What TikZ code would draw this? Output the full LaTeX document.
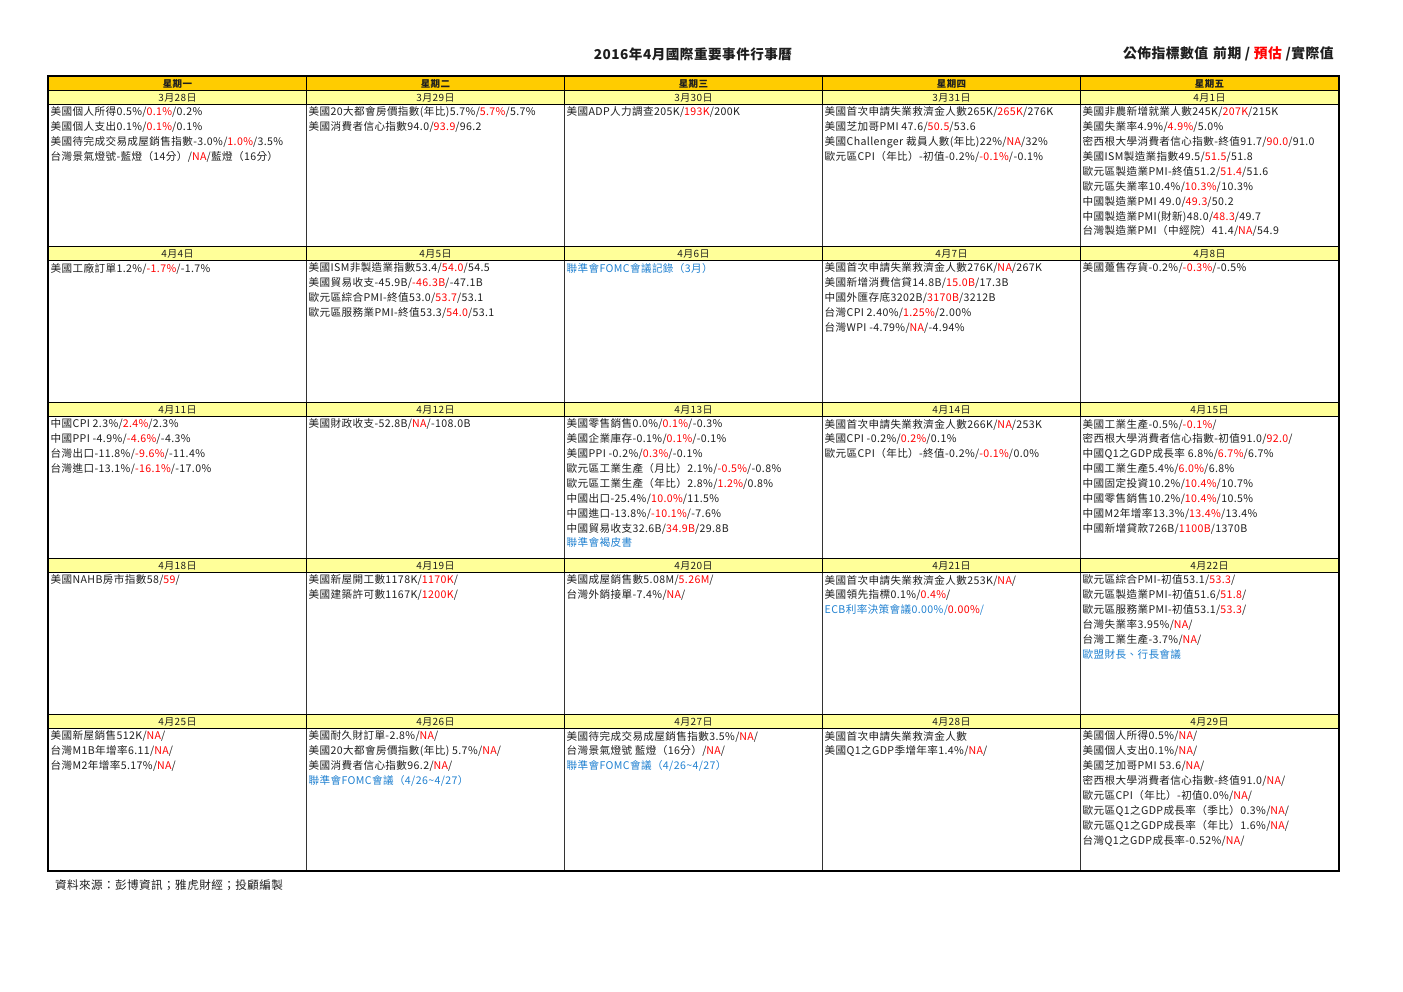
\documentclass[tikz,border=0pt]{standalone}
\usepackage{fontspec}
\setmainfont{Noto Sans CJK TC}[LetterSpace=3.5]
\definecolor{hdr}{RGB}{255,204,0}
\definecolor{dat}{RGB}{255,255,153}
\definecolor{redtx}{RGB}{255,0,0}
\definecolor{bluetx}{RGB}{31,128,208}
\definecolor{ink}{RGB}{30,30,30}
\newcommand\rtx[1]{\textcolor{redtx}{#1}}
\newcommand\btx[1]{\textcolor{bluetx}{#1}}
\tikzset{
  hdrcell/.style={draw=black, line width=1pt, fill=hdr, minimum width=258pt, minimum height=14pt, inner sep=0pt, anchor=north west, font=\bfseries\fontsize{9.5}{10}\selectfont, text=ink},
  datecell/.style={draw=black, line width=1pt, fill=dat, minimum width=258pt, minimum height=14pt, inner sep=0pt, anchor=north west, font=\fontsize{10}{10}\selectfont, text=ink},
  bodycell/.style={draw=black!80, line width=1pt, minimum width=258pt, minimum height=142pt, inner sep=0pt, anchor=north west},
  txt/.style={inner sep=0pt, anchor=north west, align=left, font=\fontsize{10.6}{14.87}\selectfont, text=ink},
}
\newcommand\daycell[5]{%
  \node[bodycell] (b#1) at ({48+258*#2},{104+156*#3}) {};
  \node[datecell] (d#1) at ({48+258*#2},{90+156*#3}) {#4};
  \node[txt] (t#1) at ({50.5+258*#2},{106.8+156*#3}) {#5};
}
\begin{document}
\begin{tikzpicture}[x=1pt,y=-1pt]
\useasboundingbox (0,0) rectangle (1403,992);
\node[font=\bfseries\fontsize{13.6}{14}\selectfont, text=ink] (title) at (693,54) {2016年4月國際重要事件行事曆};
\node[font=\bfseries\fontsize{13.8}{14}\selectfont, text=ink, anchor=east, inner sep=0pt] (legend) at (1334,54) {公佈指標數值\hspace{5pt}前期 / \rtx{預估} /實際值};
\node[hdrcell] (h1) at (48,76) {星期一};
\node[hdrcell] (h2) at (306,76) {星期二};
\node[hdrcell] (h3) at (564,76) {星期三};
\node[hdrcell] (h4) at (822,76) {星期四};
\node[hdrcell] (h5) at (1080,76) {星期五};
% row 1
\daycell{0328}{0}{0}{3月28日}{美國個人所得0.5\%/\rtx{0.1\%}/0.2\%\\
美國個人支出0.1\%/\rtx{0.1\%}/0.1\%\\
美國待完成交易成屋銷售指數-3.0\%/\rtx{1.0\%}/3.5\%\\
台灣景氣燈號-藍燈（14分）/\rtx{NA}/藍燈（16分）}
\daycell{0329}{1}{0}{3月29日}{美國20大都會房價指數(年比)5.7\%/\rtx{5.7\%}/5.7\%\\
美國消費者信心指數94.0/\rtx{93.9}/96.2}
\daycell{0330}{2}{0}{3月30日}{美國ADP人力調查205K/\rtx{193K}/200K}
\daycell{0331}{3}{0}{3月31日}{美國首次申請失業救濟金人數265K/\rtx{265K}/276K\\
美國芝加哥PMI 47.6/\rtx{50.5}/53.6\\
美國Challenger 裁員人數(年比)22\%/\rtx{NA}/32\%\\
歐元區CPI（年比）-初值-0.2\%/\rtx{-0.1\%}/-0.1\%}
\daycell{0401}{4}{0}{4月1日}{美國非農新增就業人數245K/\rtx{207K}/215K\\
美國失業率4.9\%/\rtx{4.9\%}/5.0\%\\
密西根大學消費者信心指數-終值91.7/\rtx{90.0}/91.0\\
美國ISM製造業指數49.5/\rtx{51.5}/51.8\\
歐元區製造業PMI-終值51.2/\rtx{51.4}/51.6\\
歐元區失業率10.4\%/\rtx{10.3\%}/10.3\%\\
中國製造業PMI 49.0/\rtx{49.3}/50.2\\
中國製造業PMI(財新)48.0/\rtx{48.3}/49.7\\
台灣製造業PMI（中經院）41.4/\rtx{NA}/54.9}
% row 2
\daycell{0404}{0}{1}{4月4日}{美國工廠訂單1.2\%/\rtx{-1.7\%}/-1.7\%}
\daycell{0405}{1}{1}{4月5日}{美國ISM非製造業指數53.4/\rtx{54.0}/54.5\\
美國貿易收支-45.9B/\rtx{-46.3B}/-47.1B\\
歐元區綜合PMI-終值53.0/\rtx{53.7}/53.1\\
歐元區服務業PMI-終值53.3/\rtx{54.0}/53.1}
\daycell{0406}{2}{1}{4月6日}{\btx{聯準會FOMC會議記錄（3月）}}
\daycell{0407}{3}{1}{4月7日}{美國首次申請失業救濟金人數276K/\rtx{NA}/267K\\
美國新增消費信貸14.8B/\rtx{15.0B}/17.3B\\
中國外匯存底3202B/\rtx{3170B}/3212B\\
台灣CPI 2.40\%/\rtx{1.25\%}/2.00\%\\
台灣WPI -4.79\%/\rtx{NA}/-4.94\%}
\daycell{0408}{4}{1}{4月8日}{美國躉售存貨-0.2\%/\rtx{-0.3\%}/-0.5\%}
% row 3
\daycell{0411}{0}{2}{4月11日}{中國CPI 2.3\%/\rtx{2.4\%}/2.3\%\\
中國PPI -4.9\%/\rtx{-4.6\%}/-4.3\%\\
台灣出口-11.8\%/\rtx{-9.6\%}/-11.4\%\\
台灣進口-13.1\%/\rtx{-16.1\%}/-17.0\%}
\daycell{0412}{1}{2}{4月12日}{美國財政收支-52.8B/\rtx{NA}/-108.0B}
\daycell{0413}{2}{2}{4月13日}{美國零售銷售0.0\%/\rtx{0.1\%}/-0.3\%\\
美國企業庫存-0.1\%/\rtx{0.1\%}/-0.1\%\\
美國PPI -0.2\%/\rtx{0.3\%}/-0.1\%\\
歐元區工業生產（月比）2.1\%/\rtx{-0.5\%}/-0.8\%\\
歐元區工業生產（年比）2.8\%/\rtx{1.2\%}/0.8\%\\
中國出口-25.4\%/\rtx{10.0\%}/11.5\%\\
中國進口-13.8\%/\rtx{-10.1\%}/-7.6\%\\
中國貿易收支32.6B/\rtx{34.9B}/29.8B\\
\btx{聯準會褐皮書}}
\daycell{0414}{3}{2}{4月14日}{美國首次申請失業救濟金人數266K/\rtx{NA}/253K\\
美國CPI -0.2\%/\rtx{0.2\%}/0.1\%\\
歐元區CPI（年比）-終值-0.2\%/\rtx{-0.1\%}/0.0\%}
\daycell{0415}{4}{2}{4月15日}{美國工業生產-0.5\%/\rtx{-0.1\%}/\\
密西根大學消費者信心指數-初值91.0/\rtx{92.0}/\\
中國Q1之GDP成長率 6.8\%/\rtx{6.7\%}/6.7\%\\
中國工業生產5.4\%/\rtx{6.0\%}/6.8\%\\
中國固定投資10.2\%/\rtx{10.4\%}/10.7\%\\
中國零售銷售10.2\%/\rtx{10.4\%}/10.5\%\\
中國M2年增率13.3\%/\rtx{13.4\%}/13.4\%\\
中國新增貸款726B/\rtx{1100B}/1370B}
% row 4
\daycell{0418}{0}{3}{4月18日}{美國NAHB房市指數58/\rtx{59}/}
\daycell{0419}{1}{3}{4月19日}{美國新屋開工數1178K/\rtx{1170K}/\\
美國建築許可數1167K/\rtx{1200K}/}
\daycell{0420}{2}{3}{4月20日}{美國成屋銷售數5.08M/\rtx{5.26M}/\\
台灣外銷接單-7.4\%/\rtx{NA}/}
\daycell{0421}{3}{3}{4月21日}{美國首次申請失業救濟金人數253K/\rtx{NA}/\\
美國領先指標0.1\%/\rtx{0.4\%}/\\
\btx{ECB利率決策會議0.00\%/}\rtx{0.00\%}\btx{/}}
\daycell{0422}{4}{3}{4月22日}{歐元區綜合PMI-初值53.1/\rtx{53.3}/\\
歐元區製造業PMI-初值51.6/\rtx{51.8}/\\
歐元區服務業PMI-初值53.1/\rtx{53.3}/\\
台灣失業率3.95\%/\rtx{NA}/\\
台灣工業生產-3.7\%/\rtx{NA}/\\
\btx{歐盟財長、行長會議}}
% row 5
\daycell{0425}{0}{4}{4月25日}{美國新屋銷售512K/\rtx{NA}/\\
台灣M1B年增率6.11/\rtx{NA}/\\
台灣M2年增率5.17\%/\rtx{NA}/}
\daycell{0426}{1}{4}{4月26日}{美國耐久財訂單-2.8\%/\rtx{NA}/\\
美國20大都會房價指數(年比) 5.7\%/\rtx{NA}/\\
美國消費者信心指數96.2/\rtx{NA}/\\
\btx{聯準會FOMC會議（4/26\textasciitilde 4/27）}}
\daycell{0427}{2}{4}{4月27日}{美國待完成交易成屋銷售指數3.5\%/\rtx{NA}/\\
台灣景氣燈號\ 藍燈（16分）/\rtx{NA}/\\
\btx{聯準會FOMC會議（4/26\textasciitilde 4/27）}}
\daycell{0428}{3}{4}{4月28日}{美國首次申請失業救濟金人數\\
美國Q1之GDP季增年率1.4\%/\rtx{NA}/}
\daycell{0429}{4}{4}{4月29日}{美國個人所得0.5\%/\rtx{NA}/\\
美國個人支出0.1\%/\rtx{NA}/\\
美國芝加哥PMI\ 53.6/\rtx{NA}/\\
密西根大學消費者信心指數-終值91.0/\rtx{NA}/\\
歐元區CPI（年比）-初值0.0\%/\rtx{NA}/\\
歐元區Q1之GDP成長率（季比）0.3\%/\rtx{NA}/\\
歐元區Q1之GDP成長率（年比）1.6\%/\rtx{NA}/\\
台灣Q1之GDP成長率-0.52\%/\rtx{NA}/}
\draw[line width=1.3pt, black] (h1.north west) rectangle (b0429.south east);
\node[anchor=west, inner sep=0pt, font=\fontsize{11.6}{12}\selectfont, text=ink] (src) at (55,885) {資料來源：彭博資訊；雅虎財經；投顧編製};
\end{tikzpicture}
\end{document}
